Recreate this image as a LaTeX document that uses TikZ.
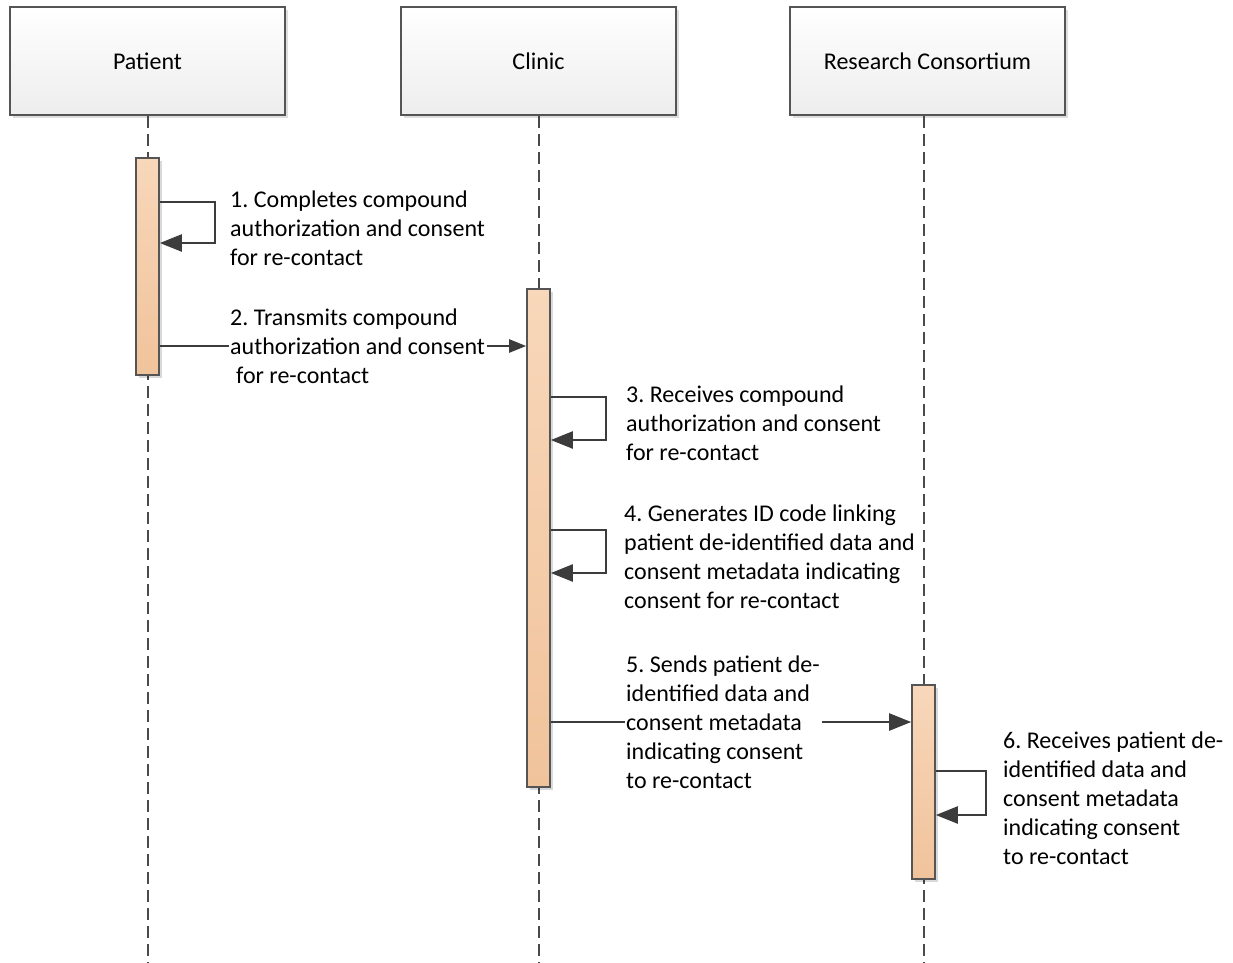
\documentclass[tikz,border=0pt]{standalone}
\usepackage{fontspec}
\setmainfont{Carlito}
\usetikzlibrary{arrows.meta,shadows}
\definecolor{linec}{HTML}{3C3C3C}
\definecolor{lifec}{HTML}{4A4A4A}
\definecolor{boxborder}{HTML}{555555}
\definecolor{bartop}{HTML}{F8D7BA}
\definecolor{barbot}{HTML}{F0C39B}
\frenchspacing
\begin{document}
\begin{tikzpicture}[x=1pt,y=-1pt,
  every node/.style={font=\fontsize{24}{29}\selectfont},
  actor/.style={draw=boxborder, line width=1.6pt, top color=white, bottom color=gray!14,
    minimum width=275pt, minimum height=108pt, inner sep=0pt,
    drop shadow={shadow xshift=3pt, shadow yshift=-3pt, opacity=0.13, fill=black}},
  lifeline/.style={draw=lifec, line width=2pt, dash pattern=on 12pt off 6pt},
  actbar/.style={draw=boxborder, line width=1.6pt, top color=bartop, bottom color=barbot,
    minimum width=23pt, inner sep=0pt,
    drop shadow={shadow xshift=2.5pt, shadow yshift=-2.5pt, opacity=0.15, fill=black}},
  msg/.style={draw=linec, line width=2.3pt, line join=miter},
  bigtip/.style={-{Triangle[length=22pt,width=17pt]}},
  smalltip/.style={-{Triangle[length=17pt,width=13pt]}},
  lab/.style={anchor=north west, align=left, inner xsep=1.5pt, inner ysep=0pt, text=black}
]
\fill[white] (0,0) rectangle (1233,962);
\useasboundingbox (0,0) rectangle (1233,962);

% actors
\node[actor] (patient) at (147.5,61) {Patient};
\node[actor] (clinic) at (538.5,61) {Clinic};
\node[actor] (rc) at (927.5,61) {Research Consortium};

% lifeline ends
\coordinate (pend) at (147.5,962);
\coordinate (cend) at (538.5,962);
\coordinate (rend) at (923.5,962);

\draw[lifeline] (patient.south) -- (pend);
\draw[lifeline] (clinic.south) -- (cend);
\draw[lifeline] (rend |- rc.south) -- (rend);

% activation bars
\node[actbar, minimum height=217pt] (pbar) at (147.5,266.5) {};
\node[actbar, minimum height=498pt] (cbar) at (538.5,538) {};
\node[actbar, minimum height=194pt] (rbar) at (923.5,782) {};

% labels
\node[lab] (lab1) at (228.5,186.7) {\strut 1. Completes compound\\authorization and consent\\for re-contact};
\node[lab] (lab2) at (228.5,304.7) {\strut 2. Transmits compound\\authorization and consent\\\hspace*{6pt}for re-contact};
\node[lab] (lab3) at (624.5,381.7) {\strut 3. Receives compound\\authorization and consent\\for re-contact};
\node[lab] (lab4) at (622.5,500.7) {\strut 4. Generates ID code linking\\patient de-identified data and\\consent metadata indicating\\consent for re-contact};
\node[lab] (lab5) at (624.5,651.7) {\strut 5. Sends patient de-\\identified data and\\consent metadata\\indicating consent\\to re-contact};
\node[lab] (lab6) at (1001.5,727.7) {\strut 6. Receives patient de-\\identified data and\\consent metadata\\indicating consent\\to re-contact};

% reference coordinates
\coordinate (l1t) at (0,202);
\coordinate (l1c) at (215,243);
\coordinate (m2) at (0,346);
\coordinate (l3t) at (0,397);
\coordinate (l3c) at (606,440);
\coordinate (l4t) at (0,530);
\coordinate (l4c) at (606,573);
\coordinate (m5) at (0,722);
\coordinate (l6t) at (0,771);
\coordinate (l6c) at (986,815);

% messages
\draw[msg, bigtip] (pbar.east |- l1t) -| (l1c) -- (pbar.east |- l1c);
\draw[msg] (pbar.east |- m2) -- (lab2.west |- m2);
\draw[msg, smalltip] (lab2.east |- m2) -- (cbar.west |- m2);
\draw[msg, bigtip] (cbar.east |- l3t) -| (l3c) -- (cbar.east |- l3c);
\draw[msg, bigtip] (cbar.east |- l4t) -| (l4c) -- (cbar.east |- l4c);
\draw[msg] (cbar.east |- m5) -- (lab5.west |- m5);
\draw[msg, bigtip] (lab5.east |- m5) -- (rbar.west |- m5);
\draw[msg, bigtip] (rbar.east |- l6t) -| (l6c) -- (rbar.east |- l6c);
\end{tikzpicture}
\end{document}
